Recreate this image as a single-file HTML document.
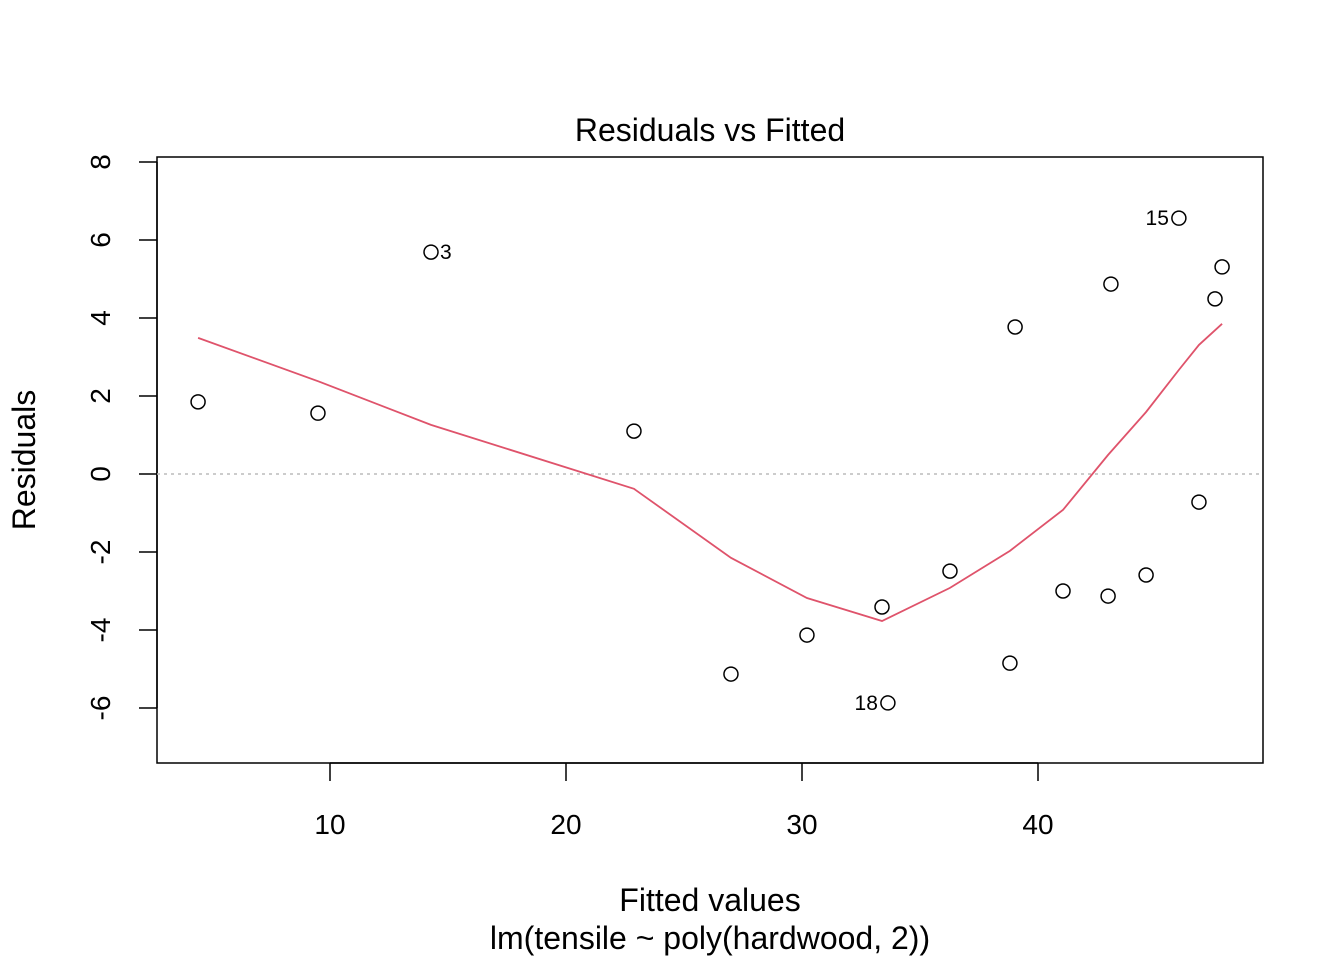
<!DOCTYPE html>
<html><head><meta charset="utf-8"><style>
body{margin:0;background:#fff}
svg text{font-family:"Liberation Sans",Arial,sans-serif;fill:#000}
</style></head><body>
<svg id="chart" width="1344" height="960" xmlns="http://www.w3.org/2000/svg">
<text x="710" y="141" font-size="32" text-anchor="middle">Residuals vs Fitted</text>
<rect x="157" y="157" width="1106" height="606" fill="none" stroke="#000" stroke-width="1.5"/>
<text x="710" y="911" font-size="32" text-anchor="middle">Fitted values</text>
<text x="710" y="949" font-size="32" text-anchor="middle">lm(tensile ~ poly(hardwood, 2))</text>
<text transform="translate(35,460) rotate(-90)" font-size="32" text-anchor="middle">Residuals</text>
<g id="xaxis"></g>
<g id="yaxis"></g>
<line id="zeroline" stroke="#bbb" stroke-width="1.5" stroke-dasharray="3,4"/>
<polyline id="smooth" fill="none" stroke="#DF536B" stroke-width="1.8"/>
<g id="points"></g>
</svg>
<script>
const fitted=[4.41,9.49,14.28,22.88,26.99,30.21,33.39,33.64,36.27,38.81,39.03,41.06,42.97,43.09,44.58,45.97,46.82,47.50,47.80];
const residuals=[1.85,1.56,5.69,1.10,-5.13,-4.13,-3.41,-5.87,-2.49,-4.85,3.77,-3.00,-3.13,4.87,-2.59,6.56,-0.72,4.49,5.31];
const pointLabels=["","","3","","","","","18","","","","","","","","15","","",""];
const smoothX=[4.41,9.49,14.28,22.88,26.99,30.21,33.39,36.27,38.81,41.06,42.97,44.58,45.97,46.82,47.80];
const smoothY=[3.49,2.38,1.26,-0.38,-2.15,-3.18,-3.77,-2.92,-1.97,-0.92,0.49,1.59,2.67,3.31,3.85];
const xTicks=[10,20,30,40];
const yTicks=[-6,-4,-2,0,2,4,6,8];
const NS="http://www.w3.org/2000/svg";
const sx=v=>94+v*23.6, sy=v=>474-v*39;
function mk(t,a,p){const e=document.createElementNS(NS,t);for(const k in a)e.setAttribute(k,a[k]);p.appendChild(e);return e;}
const xa=document.getElementById('xaxis');
mk('line',{x1:sx(xTicks[0]),x2:sx(xTicks[xTicks.length-1]),y1:763,y2:763,stroke:'#000','stroke-width':1.5},xa);
xTicks.forEach(t=>{
 const l=mk('line',{x1:sx(t),x2:sx(t),y1:763,y2:781,stroke:'#000','stroke-width':1.5},xa);
 
 
 const tx=mk('text',{x:sx(t),y:834,'font-size':28,'text-anchor':'middle'},xa);tx.textContent=t;
 
 
});
const ya=document.getElementById('yaxis');
mk('line',{x1:157,x2:157,y1:sy(yTicks[0]),y2:sy(yTicks[yTicks.length-1]),stroke:'#000','stroke-width':1.5},ya);
yTicks.forEach(t=>{
 const l=mk('line',{x1:139,x2:157,y1:sy(t),y2:sy(t),stroke:'#000','stroke-width':1.5},ya);
 
 
 const tx=mk('text',{transform:`translate(110,${sy(t)}) rotate(-90)`,'font-size':28,'text-anchor':'middle'},ya);tx.textContent=t;
 
 
});
const z=document.getElementById('zeroline');
z.setAttribute('x1',157);z.setAttribute('x2',1263);z.setAttribute('y1',sy(0));z.setAttribute('y2',sy(0));
document.getElementById('smooth').setAttribute('points',smoothX.map((x,i)=>sx(x)+','+sy(smoothY[i])).join(' '));
const pg=document.getElementById('points');
fitted.forEach((f,i)=>{
 const c=mk('circle',{cx:sx(f),cy:sy(residuals[i]),r:7,fill:'none',stroke:'#000','stroke-width':1.5},pg);
 
 
 if(pointLabels[i]){
  const right=pointLabels[i]==="3";
  const tx=mk('text',{x:sx(f)+(right?9:-10),y:sy(residuals[i])+7,'font-size':21,'text-anchor':right?'start':'end'},pg);
  tx.textContent=pointLabels[i];
  
  
 }
});
</script>
</body></html>
